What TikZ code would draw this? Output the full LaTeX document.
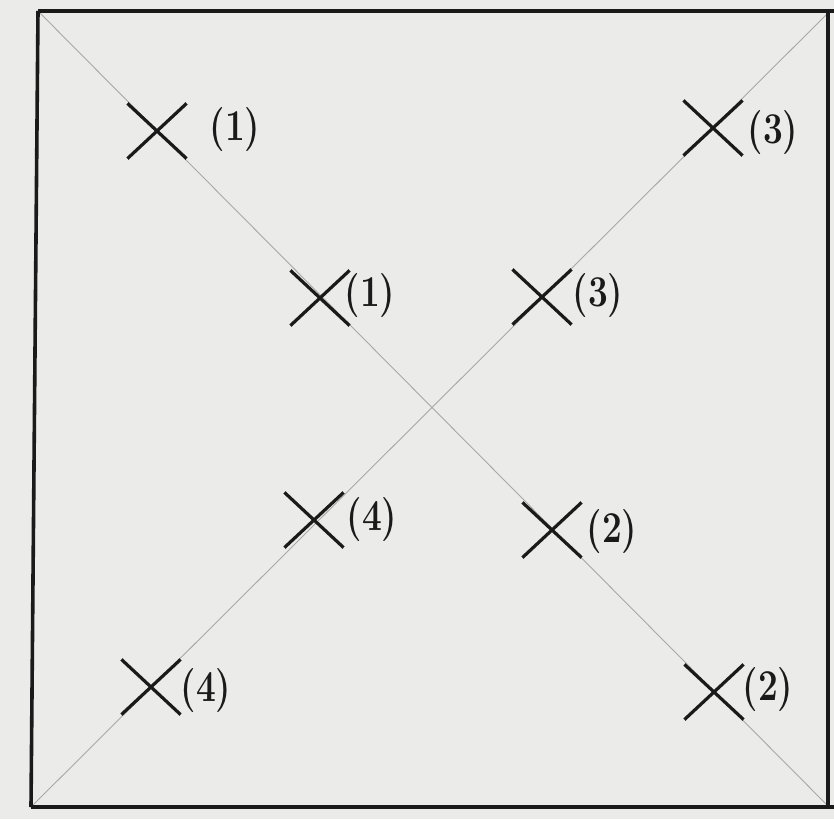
\documentclass[tikz,border=0pt]{standalone}
\usepackage{tikz}
\usetikzlibrary{shapes.misc,positioning}
\definecolor{paper}{HTML}{EBEBEA}
\definecolor{pencil}{HTML}{1A1A1A}
\definecolor{faint}{HTML}{A8A8A8}
\newcommand{\handtag}[1]{\scalebox{0.8}[1]{#1}}

\begin{document}
\begin{tikzpicture}[
  x=1pt,y=-1pt,
  cross/.style={cross out,draw=pencil,line width=3.2pt,inner sep=0pt,minimum width=56pt,minimum height=52pt},
  tag/.style={inner sep=0pt,text=pencil,font=\fontsize{44}{46}\selectfont\bfseries},
  frame/.style={draw=pencil,line width=3.6pt},
  diag/.style={draw=faint,line width=0.9pt}
]
\useasboundingbox[fill=paper] (0,0) rectangle (834,819);
% square and its corners
\coordinate (tl) at (38,11);
\coordinate (tr) at (828,13);
\coordinate (br) at (828,806);
\coordinate (bl) at (31,807);
\draw[diag] (tl)--(br); \draw[diag] (tr)--(bl);
\draw[frame] (tl)--(834,11); \draw[frame] (31,807)--(834,807);
\draw[frame] (tl)--(bl); \draw[frame] (tr)--(br);
% crosses
\node[cross] (m1a) at (157,131) {};
\node[cross] (m3a) at (713,128) {};
\node[cross] (m1b) at (320,298) {};
\node[cross] (m3b) at (542,297) {};
\node[cross] (m4b) at (314,520) {};
\node[cross] (m2b) at (552,530) {};
\node[cross] (m4a) at (151,687) {};
\node[cross] (m2a) at (714,692) {};
% labels
\node[tag] (t1a) at (235,130) {\handtag{(1)}};
\node[tag] (t3a) at (773,133) {\handtag{(3)}};
\node[tag] (t1b) at (370,296) {\handtag{(1)}};
\node[tag] (t3b) at (598,296) {\handtag{(3)}};
\node[tag] (t4b) at (372,520) {\handtag{(4)}};
\node[tag] (t2b) at (612,532) {\handtag{(2)}};
\node[tag] (t4a) at (206,691) {\handtag{(4)}};
\node[tag] (t2a) at (768,690) {\handtag{(2)}};
\end{tikzpicture}
\end{document}
